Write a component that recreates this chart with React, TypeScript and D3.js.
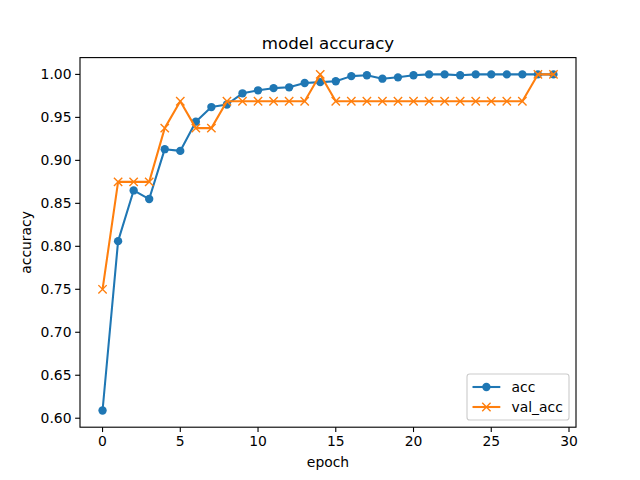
import * as React from 'react';
import { scaleLinear, line as d3line, range } from 'd3';

const epochs = range(0, 30);
const acc = [
  0.609, 0.806, 0.865, 0.855, 0.913, 0.911, 0.945, 0.962, 0.965, 0.978,
  0.9815, 0.984, 0.985, 0.990, 0.991, 0.992, 0.998, 0.999, 0.995, 0.9966,
  0.999, 1.0, 1.0, 0.999, 1.0, 1.0, 1.0, 1.0, 1.0, 1.0,
];
const valAcc = [
  0.75, 0.875, 0.875, 0.875, 0.9375, 0.96875, 0.9375, 0.9375, 0.96875, 0.96875,
  0.96875, 0.96875, 0.96875, 0.96875, 1.0, 0.96875, 0.96875, 0.96875, 0.96875, 0.96875,
  0.96875, 0.96875, 0.96875, 0.96875, 0.96875, 0.96875, 0.96875, 0.96875, 1.0, 1.0,
];
const xTicks = [0, 5, 10, 15, 20, 25, 30];
const yTicks = [0.6, 0.65, 0.7, 0.75, 0.8, 0.85, 0.9, 0.95, 1.0];

const W = 640, H = 480;
const L = 80, R = 576, T = 57.6, B = 427.2;
const BLUE = '#1f77b4', ORANGE = '#ff7f0e';
const FONT = 'DejaVu Sans, sans-serif';

export default function App() {
  const x = scaleLinear().domain([-1.45, 30.45]).range([L, R]);
  const y = scaleLinear().domain([0.58955, 1.01955]).range([B, T]);
  const pts = (vals: number[]) => epochs.map((e, i) => [e, vals[i]] as [number, number]);
  const ln = d3line<[number, number]>().x(d => x(d[0])).y(d => y(d[1]));
  const cross = (cx: number, cy: number, k: string | number) => {
    const s = 4.17;
    return (
      <path key={k} d={`M${cx - s},${cy - s}L${cx + s},${cy + s}M${cx - s},${cy + s}L${cx + s},${cy - s}`}
        stroke={ORANGE} strokeWidth={1.39} fill="none" />
    );
  };

  const lx = 467, ly = 374, lw = 102, lh = 46;

  return (
    <svg width={W} height={H} style={{ position: 'absolute', left: 0, top: 0 }} fontFamily={FONT}>
      <rect width={W} height={H} fill="#fff" />
      <defs>
        <clipPath id="ax"><rect x={L} y={T} width={R - L} height={B - T} /></clipPath>
      </defs>
      <g clipPath="url(#ax)">
        <path d={ln(pts(acc)) ?? ''} stroke={BLUE} strokeWidth={2.08} fill="none" strokeLinejoin="round" />
        {acc.map((v, i) => <circle key={i} cx={x(epochs[i])} cy={y(v)} r={4.17} fill={BLUE} />)}
        <path d={ln(pts(valAcc)) ?? ''} stroke={ORANGE} strokeWidth={2.08} fill="none" strokeLinejoin="round" />
        {valAcc.map((v, i) => cross(x(epochs[i]), y(v), i))}
      </g>
      <rect x={L} y={T} width={R - L} height={B - T} fill="none" stroke="#000" strokeWidth={1.11} />
      {xTicks.map(t => (
        <g key={t}>
          <line x1={x(t)} x2={x(t)} y1={B} y2={B + 4.86} stroke="#000" strokeWidth={1.11} />
          <text x={x(t)} y={B + 18.5} textAnchor="middle" fontSize={13.9}>{t}</text>
        </g>
      ))}
      {yTicks.map(t => (
        <g key={t}>
          <line x1={L} x2={L - 4.86} y1={y(t)} y2={y(t)} stroke="#000" strokeWidth={1.11} />
          <text x={L - 8.5} y={y(t)} dy="0.35em" textAnchor="end" fontSize={13.9}>{t.toFixed(2)}</text>
        </g>
      ))}
      <text x={(L + R) / 2} y={T - 9} textAnchor="middle" fontSize={16.67}>model accuracy</text>
      <text x={(L + R) / 2} y={467} textAnchor="middle" fontSize={13.9}>epoch</text>
      <text transform={`translate(31,${(T + B) / 2}) rotate(-90)`} textAnchor="middle" fontSize={13.9}>accuracy</text>
      <g>
        <rect x={lx} y={ly} width={lw} height={lh} rx={2.8} fill="#fff" fillOpacity={0.8} stroke="#cccccc" strokeWidth={1.11} />
        <line x1={lx + 5.5} x2={lx + 33.3} y1={ly + 13} y2={ly + 13} stroke={BLUE} strokeWidth={2.08} />
        <circle cx={lx + 19.4} cy={ly + 13} r={4.17} fill={BLUE} />
        <text x={lx + 44.5} y={ly + 13} dy="0.35em" fontSize={13.9}>acc</text>
        <line x1={lx + 5.5} x2={lx + 33.3} y1={ly + 33} y2={ly + 33} stroke={ORANGE} strokeWidth={2.08} />
        {cross(lx + 19.4, ly + 33, 'leg')}
        <text x={lx + 44.5} y={ly + 33} dy="0.35em" fontSize={13.9}>val_acc</text>
      </g>
    </svg>
  );
}
